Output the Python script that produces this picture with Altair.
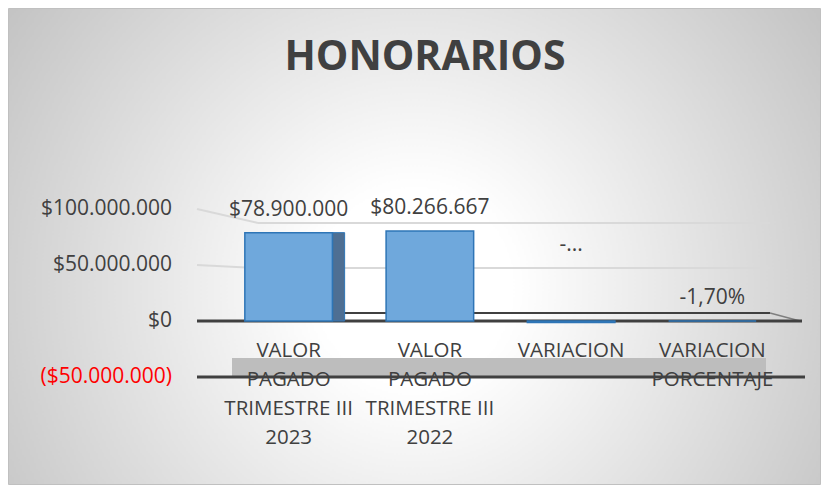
import altair as alt
import pandas as pd

# ---------------- data ----------------
categories = [
    "VALOR PAGADO TRIMESTRE III 2023",
    "VALOR PAGADO TRIMESTRE III 2022",
    "VARIACION",
    "VARIACION PORCENTAJE",
]
category_lines = [
    "VALOR\nPAGADO\nTRIMESTRE III\n2023",
    "VALOR\nPAGADO\nTRIMESTRE III\n2022",
    "VARIACION",
    "VARIACION\nPORCENTAJE",
]
values = [78900000, 80266667, -1366667, -0.017]
value_labels = ["$78.900.000", "$80.266.667", "-...", "-1,70%"]
y_ticks = [-50000000, 0, 50000000, 100000000]
y_tick_labels = ["($50.000.000)", "$0", "$50.000.000", "$100.000.000"]
grid_values = [50000000, 100000000]
title_text = "HONORARIOS"

# ---------------- styling ----------------
FONT = "Open Sans"
TEXT = "#404040"
W, H = 565, 168
PAD = {"left": 210, "top": 201, "right": 38, "bottom": 108}


def back_wall(v):
    # perspective: value on the back wall expressed in front-scale units
    return (8 + 0.9 * v / 1e6) / 1.12 * 1e6


df = pd.DataFrame({
    "cat": categories,
    "lines": category_lines,
    "value": values,
    "label": value_labels,
})
df["lab_y"] = df["value"].clip(lower=0)

ticks_df = pd.DataFrame({"v": y_ticks, "t": y_tick_labels})

grid = pd.DataFrame({"v": grid_values})
grid["vb"] = grid["v"].apply(back_wall)

yscale = alt.Scale(domain=[y_ticks[0], y_ticks[-1]], nice=False, zero=False)
xscale = alt.Scale(domain=categories, paddingInner=0.38, paddingOuter=0.19)
x_enc = alt.X("cat:N", sort=categories, scale=xscale, axis=None)

one = pd.DataFrame({"a": [0]})

# background with radial gradient + frame
background = alt.Chart(one).mark_rect(
    fill=alt.RadialGradient(
        gradient="radial",
        stops=[
            alt.GradientStop(offset=0.0, color="#ffffff"),
            alt.GradientStop(offset=0.2, color="#ffffff"),
            alt.GradientStop(offset=1.0, color="#c4c4c4"),
        ],
        x1=0.5, y1=0.55, r1=0.0, x2=0.5, y2=0.55, r2=0.6,
    ),
    stroke="#c0c0c0",
    strokeWidth=1,
).encode(
    x=alt.value(-PAD["left"] + 0.5),
    x2=alt.value(W + PAD["right"] - 0.5),
    y=alt.value(-PAD["top"] + 0.5),
    y2=alt.value(H + PAD["bottom"] - 0.5),
)

# back-wall gridlines (diagonal + horizontal)
grid_diag = alt.Chart(grid).mark_rule(color="#d9d9d9", strokeWidth=2).encode(
    x=alt.value(-21), x2=alt.value(40),
    y=alt.Y("v:Q", scale=yscale, axis=None), y2="vb:Q",
)
grid_h = alt.Chart(grid).mark_rule(color="#d9d9d9", strokeWidth=2).encode(
    x=alt.value(40), x2=alt.value(552),
    y=alt.Y("vb:Q", scale=yscale, axis=None),
)

# floor at -50M (gray slab) and lines
floor_df = pd.DataFrame({"v": [y_ticks[0]], "vb": [back_wall(y_ticks[0])]})
floor_slab = alt.Chart(floor_df).mark_rect(fill="#bdbdbd").encode(
    x=alt.value(14), x2=alt.value(548),
    y=alt.Y("vb:Q", scale=yscale, axis=None), y2="v:Q",
)
floor_line = alt.Chart(floor_df).mark_rule(color=TEXT, strokeWidth=3).encode(
    x=alt.value(-21), x2=alt.value(587),
    y=alt.Y("v:Q", scale=yscale, axis=None),
)

zero_df = pd.DataFrame({"v": [0.0], "vb": [back_wall(0)]})
zero_back = alt.Chart(zero_df).mark_rule(color=TEXT, strokeWidth=2).encode(
    x=alt.value(30), x2=alt.value(552),
    y=alt.Y("vb:Q", scale=yscale, axis=None),
)
zero_right = alt.Chart(zero_df).mark_rule(color="#7f7f7f", strokeWidth=1.5).encode(
    x=alt.value(552), x2=alt.value(582),
    y=alt.Y("vb:Q", scale=yscale, axis=None), y2="v:Q",
)
zero_front = alt.Chart(zero_df).mark_rule(color=TEXT, strokeWidth=3).encode(
    x=alt.value(-21), x2=alt.value(584),
    y=alt.Y("v:Q", scale=yscale, axis=None),
)

# y tick labels
y_labels = alt.Chart(ticks_df).mark_text(
    font=FONT, fontSize=21, align="right", baseline="middle"
).encode(
    x=alt.value(-46),
    y=alt.Y("v:Q", scale=yscale, axis=None),
    text="t:N",
    color=alt.condition("datum.v < 0", alt.value("#FF0000"), alt.value(TEXT)),
)

# bars
bars = alt.Chart(df).mark_bar(
    fill="#6FA8DC", stroke="#2E75B6", strokeWidth=1.5
).encode(
    x=x_enc,
    y=alt.Y("value:Q", scale=yscale, axis=None),
    y2=alt.datum(0),
)

side = alt.Chart(df).transform_filter(
    alt.datum.cat == categories[0]
).mark_bar(
    fill="#4E6F93", stroke="#2E75B6", strokeWidth=1, size=12, xOffset=50
).encode(
    x=x_enc,
    y=alt.Y("value:Q", scale=yscale, axis=None),
    y2=alt.datum(0),
)

labels_main = alt.Chart(df).transform_filter(
    "datum.label != '-...'"
).mark_text(font=FONT, fontSize=21, color=TEXT, baseline="middle", dy=-23).encode(
    x=x_enc,
    y=alt.Y("lab_y:Q", scale=yscale, axis=None),
    text="label:N",
)
labels_trunc = alt.Chart(df).transform_filter(
    "datum.label == '-...'"
).mark_text(font=FONT, fontSize=21, color=TEXT, baseline="middle", dy=-76).encode(
    x=x_enc,
    y=alt.Y("lab_y:Q", scale=yscale, axis=None),
    text="label:N",
)

x_labels = alt.Chart(df).mark_text(
    font=FONT, fontSize=20.5, color=TEXT, baseline="top",
    lineBreak="\n", lineHeight=29, align="center",
).encode(
    x=x_enc,
    y=alt.value(132),
    text="lines:N",
)

title = alt.Chart(pd.DataFrame({"t": [title_text]})).mark_text(
    font=FONT, fontSize=41, fontWeight="bold", color=TEXT,
    baseline="middle", align="center",
).encode(
    x=alt.value(207),
    y=alt.value(-151),
    text="t:N",
)

chart = alt.layer(
    background, grid_diag, grid_h, floor_slab, floor_line,
    zero_back, zero_right, zero_front,
    side, bars, labels_main, labels_trunc, x_labels, y_labels, title,
).properties(
    width=W, height=H,
    padding=PAD,
    autosize=alt.AutoSizeParams(type="none"),
).configure_view(stroke=None)

chart.save("out.html", embed_options={"renderer": "svg", "actions": False})
